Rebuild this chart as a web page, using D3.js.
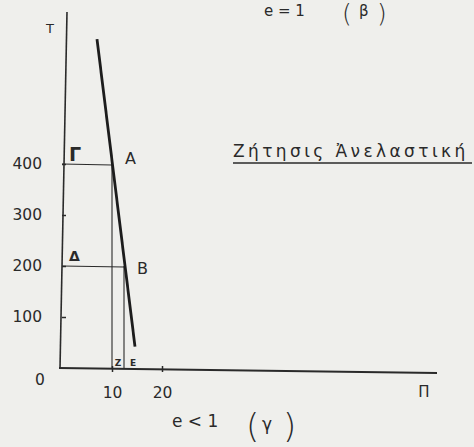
<!DOCTYPE html>
<html>
<head>
<meta charset="utf-8">
<script src="https://cdn.jsdelivr.net/npm/d3@7"></script>
<style>
  body { margin: 0; background: #efefec; }
  text { font-family: "DejaVu Sans", sans-serif; fill: #2a2a2a; }
</style>
</head>
<body>
<div id="chart"></div>
<script>
// demand curve end points (quantity, price)
var demand = [[7, 645], [14.6, 42]];
// the two marked points A and B
var points = [
  {name: "A", side: "Γ", q: 10, p: 400},
  {name: "B", side: "Δ", q: 12.4, p: 200}
];
var yTicks = [100, 200, 300, 400];
var xTicks = [10, 20];
var footLabels = ["Ζ", "Ε"];

var width = 474, height = 447;
var svg = d3.select("#chart").append("svg")
    .attr("width", width)
    .attr("height", height);

svg.append("rect")
  .attr("width", width)
  .attr("height", height)
  .attr("fill", "#efefec");

var x = d3.scaleLinear().domain([0, 75]).range([62, 437]);
var y = d3.scaleLinear().domain([0, 400]).range([368, 164]);

var ink = "#2a2a2a";

// y axis (drawn up to the T label)
svg.append("line")
  .attr("x1", x(0) - 2).attr("y1", y(0))
  .attr("x2", x(0) + 5).attr("y2", 12)
  .attr("stroke", ink).attr("stroke-width", 1.6);

// x axis
svg.append("line")
  .attr("x1", x(0) - 3).attr("y1", y(0))
  .attr("x2", x(75)).attr("y2", y(0) + 5)
  .attr("stroke", ink).attr("stroke-width", 1.8);

var yAxis = svg.append("g")
  .attr("transform", "translate(" + x(0) + ",0)")
  .call(d3.axisLeft(y).tickValues(yTicks).tickSizeInner(4).tickSizeOuter(0).tickPadding(16));
yAxis.select(".domain").remove();
yAxis.selectAll(".tick line").attr("x2", 4).attr("stroke", ink).attr("stroke-width", 1.5);
yAxis.selectAll(".tick text")
  .style("font-family", "DejaVu Sans, sans-serif")
  .style("font-size", "15.5px")
  .attr("fill", ink);

var xAxis = svg.append("g")
  .attr("transform", "translate(0," + (y(0) + 1) + ")")
  .call(d3.axisBottom(x).tickValues(xTicks).tickSizeInner(3).tickSizeOuter(0).tickPadding(15));
xAxis.select(".domain").remove();
xAxis.selectAll(".tick line").attr("y1", -3).attr("stroke", ink).attr("stroke-width", 1.5);
xAxis.selectAll(".tick text")
  .style("font-family", "DejaVu Sans, sans-serif")
  .style("font-size", "15.5px")
  .attr("fill", ink);

// origin and axis names
svg.append("text").attr("x", 40).attr("y", 385).attr("text-anchor", "middle")
  .style("font-size", "15.5px").text("0");
svg.append("text").attr("x", 50).attr("y", 33).attr("text-anchor", "middle")
  .style("font-size", "13px").text("Τ");
svg.append("text").attr("x", 424).attr("y", 397).attr("text-anchor", "middle")
  .style("font-size", "15px").text("Π");

// guide lines for A and B
var g = svg.append("g");
g.selectAll(".h").data(points).enter().append("line")
  .attr("x1", x(0)).attr("y1", function(d) { return y(d.p); })
  .attr("x2", function(d) { return x(d.q); }).attr("y2", function(d) { return y(d.p) + 1; })
  .attr("stroke", ink).attr("stroke-width", 1.1);
g.selectAll(".v").data(points).enter().append("line")
  .attr("x1", function(d) { return x(d.q); }).attr("y1", function(d) { return y(d.p); })
  .attr("x2", function(d) { return x(d.q); }).attr("y2", y(0) + 1)
  .attr("stroke", ink).attr("stroke-width", 1.1);

// demand line
svg.append("line")
  .attr("x1", x(demand[0][0])).attr("y1", y(demand[0][1]))
  .attr("x2", x(demand[1][0])).attr("y2", y(demand[1][1]))
  .attr("stroke", "#1c1c1c").attr("stroke-width", 2.8);

// point labels
g.selectAll(".pl").data(points).enter().append("text")
  .attr("x", function(d) { return x(d.q) + 13; })
  .attr("y", function(d) { return y(d.p) + (d.name == "A" ? 0 : 8); })
  .style("font-size", "16px")
  .text(function(d) { return d.name; });
g.selectAll(".sl").data(points).enter().append("text")
  .attr("x", x(0) + 7)
  .attr("y", function(d) { return y(d.p) - (d.name == "A" ? 3 : 5); })
  .style("font-size", function(d) { return d.name == "A" ? "19px" : "14px"; })
  .style("font-weight", "bold")
  .text(function(d) { return d.side; });
g.selectAll(".fl").data(points).enter().append("text")
  .attr("x", function(d, i) { return x(d.q) + 6 + i * 3; })
  .attr("y", y(0) - 2)
  .attr("text-anchor", "middle")
  .style("font-size", "9px")
  .style("font-weight", "bold")
  .text(function(d, i) { return footLabels[i]; });

// title
svg.append("text").attr("x", 233).attr("y", 157)
  .style("font-size", "17px")
  .style("letter-spacing", "3.4px")
  .text("Ζήτησις  Ἀνελαστική");
svg.append("line")
  .attr("x1", 233).attr("y1", 163).attr("x2", 472).attr("y2", 163)
  .attr("stroke", ink).attr("stroke-width", 1.3);

// captions
svg.append("text").attr("x", 264).attr("y", 16).style("font-size", "15px").text("e = 1");
svg.append("text").attr("x", 342).attr("y", 22).style("font-size", "25px").style("font-weight", "200").text("(");
svg.append("text").attr("x", 359).attr("y", 16).style("font-size", "15px").text("β");
svg.append("text").attr("x", 377).attr("y", 22).style("font-size", "25px").style("font-weight", "200").text(")");

svg.append("text").attr("x", 172).attr("y", 427).style("font-size", "17px").text("e < 1");
svg.append("text").attr("x", 246).attr("y", 438).style("font-size", "34px").style("font-weight", "200").text("(");
svg.append("text").attr("x", 262).attr("y", 430).style("font-size", "17px").text("γ");
svg.append("text").attr("x", 283).attr("y", 438).style("font-size", "34px").style("font-weight", "200").text(")");
</script>
</body>
</html>
